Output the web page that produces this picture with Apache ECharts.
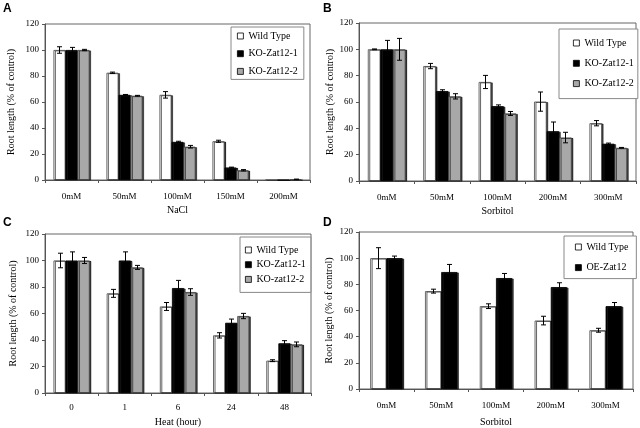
<!DOCTYPE html>
<html>
<head>
<meta charset="utf-8">
<script src="https://cdn.jsdelivr.net/npm/echarts@6/dist/echarts.min.js"></script>
<style>html,body{margin:0;padding:0;background:#fff}#c{width:640px;height:428px}</style>
</head>
<body>
<div id="c"></div>
<script>
// ---- Data ----
const catsA = ['0mM', '50mM', '100mM', '150mM', '200mM'];
const aWT = [100, 82.5, 65.5, 29.8, 0];
const aWTerr = [2.5, 0.5, 2.5, 0.8, 0];
const aKO1 = [100, 65.5, 29.3, 9.6, 0];
const aKO1err = [2, 0.3, 0.5, 0.3, 0];
const aKO2 = [100, 64.8, 25.6, 7.5, 0.5];
const aKO2err = [0.5, 0.3, 1, 0.5, 0.2];

const catsB = ['0mM', '50mM', '100mM', '200mM', '300mM'];
const bWT = [100, 87.3, 75.2, 60.3, 43.9];
const bWTerr = [0.3, 2, 5, 7.3, 2];
const bKO1 = [100, 68.3, 56.8, 37.8, 28.3];
const bKO1err = [6.8, 1, 1, 7, 0.5];
const bKO2 = [100, 64.3, 51.3, 33, 25.2];
const bKO2err = [8.3, 2, 1.5, 4, 0.3];

const catsC = ['0', '1', '6', '24', '48'];
const cWT = [100, 75.2, 65.3, 43.5, 24.4];
const cWTerr = [5.5, 3, 3, 2, 0.7];
const cKO1 = [100, 100, 79.2, 53, 37.5];
const cKO1err = [6.5, 6.5, 5.8, 2.8, 2];
const cKO2 = [100, 94.8, 76.2, 58.1, 36.7];
const cKO2err = [2.3, 1.5, 2.5, 2, 1.8];

const catsD = ['0mM', '50mM', '100mM', '200mM', '300mM'];
const dWT = [100, 74.8, 63.3, 52.3, 44.9];
const dWTerr = [8, 1.5, 1.8, 3.3, 1.5];
const dOE = [100, 89.4, 84.8, 77.9, 63.3];
const dOEerr = [1.6, 5.8, 3.5, 3.3, 2.8];

const yTicks = [0, 20, 40, 60, 80, 100, 120];

// ---- Styles ----
const FONT = 'Liberation Serif';
const STY = {
  wt: {color: '#ffffff', borderColor: '#444', borderWidth: 0.8},
  ko1: {color: '#000000', borderColor: '#000', borderWidth: 0.8},
  ko2: {color: '#a8a8a8', borderColor: '#444', borderWidth: 0.8}
};

const grids = [
  {left: 45, top: 24, width: 265, height: 156},
  {left: 359, top: 23, width: 277, height: 158},
  {left: 45, top: 234, width: 266, height: 159},
  {left: 359, top: 232, width: 274, height: 157}
];
const gaps = [0.32, 0.32, 0.32, 0.41];
const xNames = ['NaCl', 'Sorbitol', 'Heat (hour)', 'Sorbitol'];
const xCats = [catsA, catsB, catsC, catsD];
const labelMargins = [12.5, 12, 10.5, 12.5];
const xNameGaps = [25, 25, 24, 28];
const yNameGaps = [29, 23, 27, 25];

function barSeries(g, name, data, sty) {
  return {
    type: 'bar', name: name, xAxisIndex: g, yAxisIndex: g, data: data,
    barGap: '0%', barCategoryGap: (gaps[g] * 100) + '%',
    itemStyle: Object.assign({shadowColor: 'rgba(30,30,30,0.85)', shadowOffsetX: 1.5, shadowOffsetY: 0.5, shadowBlur: 0.5}, sty),
    emphasis: {disabled: true}, silent: true
  };
}

function errSeries(g, vals, errs, idx, n) {
  const gf = gaps[g];
  return {
    type: 'custom', xAxisIndex: g, yAxisIndex: g, z: 10, silent: true,
    encode: {x: 0, y: 1},
    data: vals.map((v, i) => [i, v, errs[i]]),
    renderItem: function (params, api) {
      const ci = api.value(0), v = api.value(1), e = api.value(2);
      if (!e) return null;
      const catW = api.size([1, 0])[0];
      const groupW = catW * (1 - gf);
      const bw = groupW / n;
      const c = api.coord([ci, v]);
      const x = Math.round(c[0] - groupW / 2 + bw * (idx + 0.5)) + 0.5;
      const top = api.coord([ci, v + e])[1];
      const bot = api.coord([ci, Math.max(0, v - e)])[1];
      const cap = 2.5;
      const st = {stroke: '#000', lineWidth: 1};
      return {
        type: 'group', children: [
          {type: 'line', shape: {x1: x, y1: top, x2: x, y2: bot}, style: st},
          {type: 'line', shape: {x1: x - cap, y1: top, x2: x + cap, y2: top}, style: st},
          {type: 'line', shape: {x1: x - cap, y1: bot, x2: x + cap, y2: bot}, style: st}
        ]
      };
    }
  };
}

function legendItem(name, sty) {
  return {name: name, itemStyle: {color: sty.color, borderColor: '#000', borderWidth: 0.8, shadowOffsetX: 0, shadowOffsetY: 0, shadowBlur: 0, shadowColor: 'transparent'}};
}

function makeLegend(left, top, padding, gap, items) {
  return {
    orient: 'vertical', left: left, top: top, padding: padding, itemGap: gap,
    itemWidth: 6, itemHeight: 6, icon: 'rect',
    backgroundColor: '#fff', borderColor: '#888', borderWidth: 1,
    textStyle: {fontFamily: FONT, fontSize: 10, color: '#000', lineHeight: 10},
    selectedMode: false,
    data: items
  };
}

const series = [
  barSeries(0, 'Wild Type', aWT, STY.wt),
  barSeries(0, 'KO-Zat12-1', aKO1, STY.ko1),
  barSeries(0, 'KO-Zat12-2', aKO2, STY.ko2),
  errSeries(0, aWT, aWTerr, 0, 3),
  errSeries(0, aKO1, aKO1err, 1, 3),
  errSeries(0, aKO2, aKO2err, 2, 3),

  barSeries(1, 'Wild Type', bWT, STY.wt),
  barSeries(1, 'KO-Zat12-1', bKO1, STY.ko1),
  barSeries(1, 'KO-Zat12-2', bKO2, STY.ko2),
  errSeries(1, bWT, bWTerr, 0, 3),
  errSeries(1, bKO1, bKO1err, 1, 3),
  errSeries(1, bKO2, bKO2err, 2, 3),

  barSeries(2, 'Wild Type', cWT, STY.wt),
  barSeries(2, 'KO-Zat12-1', cKO1, STY.ko1),
  barSeries(2, 'KO-zat12-2', cKO2, STY.ko2),
  errSeries(2, cWT, cWTerr, 0, 3),
  errSeries(2, cKO1, cKO1err, 1, 3),
  errSeries(2, cKO2, cKO2err, 2, 3),

  barSeries(3, 'Wild Type', dWT, STY.wt),
  barSeries(3, 'OE-Zat12', dOE, STY.ko1),
  errSeries(3, dWT, dWTerr, 0, 2),
  errSeries(3, dOE, dOEerr, 1, 2)
];

const option = {
  animation: false,
  backgroundColor: '#fff',
  grid: grids.map(g => Object.assign({show: true, borderColor: '#666', borderWidth: 1, backgroundColor: 'transparent'}, g)),
  xAxis: grids.map((g, i) => ({
    type: 'category', gridIndex: i, data: xCats[i],
    name: xNames[i], nameLocation: 'middle', nameGap: xNameGaps[i],
    nameTextStyle: {fontFamily: FONT, fontSize: 10, color: '#000'},
    axisLine: {lineStyle: {color: '#555', width: 1}},
    axisTick: {show: true, length: 3, inside: false, lineStyle: {color: '#555'}},
    axisLabel: {fontFamily: FONT, fontSize: 9, color: '#000', margin: labelMargins[i]},
    splitLine: {show: false}
  })),
  yAxis: grids.map((g, i) => ({
    type: 'value', gridIndex: i, min: yTicks[0], max: yTicks[yTicks.length - 1], interval: yTicks[1] - yTicks[0],
    name: 'Root length (% of control)', nameLocation: 'middle', nameGap: yNameGaps[i], nameRotate: 90,
    nameTextStyle: {fontFamily: FONT, fontSize: 10, color: '#000'},
    axisLine: {show: true, lineStyle: {color: '#555', width: 1}},
    axisTick: {show: true, length: 3, inside: false, lineStyle: {color: '#555'}},
    axisLabel: {fontFamily: FONT, fontSize: 9, color: '#000', margin: 6},
    splitLine: {show: false}
  })),
  legend: [
    makeLegend(231, 27, [4, 6, 3, 6], 7.7, [legendItem('Wild Type', STY.wt), legendItem('KO-Zat12-1', STY.ko1), legendItem('KO-Zat12-2', STY.ko2)]),
    makeLegend(559, 29, [9, 4, 10, 14], 10.3, [legendItem('Wild Type', STY.wt), legendItem('KO-Zat12-1', STY.ko1), legendItem('KO-Zat12-2', STY.ko2)]),
    makeLegend(240, 237, [8, 5, 8, 5], 4.7, [legendItem('Wild Type', STY.wt), legendItem('KO-Zat12-1', STY.ko1), legendItem('KO-zat12-2', STY.ko2)]),
    makeLegend(564, 236, [6, 8, 6, 11], 10.6, [legendItem('Wild Type', STY.wt), legendItem('OE-Zat12', STY.ko1)])
  ],
  graphic: [
    {type: 'text', left: 3, top: 3, style: {text: 'A', fontFamily: 'Liberation Sans', fontWeight: 'bold', fontSize: 12, fill: '#000'}},
    {type: 'text', left: 323, top: 3, style: {text: 'B', fontFamily: 'Liberation Sans', fontWeight: 'bold', fontSize: 12, fill: '#000'}},
    {type: 'text', left: 3, top: 217, style: {text: 'C', fontFamily: 'Liberation Sans', fontWeight: 'bold', fontSize: 12, fill: '#000'}},
    {type: 'text', left: 323, top: 217, style: {text: 'D', fontFamily: 'Liberation Sans', fontWeight: 'bold', fontSize: 12, fill: '#000'}}
  ],
  series: series
};

const chart = echarts.init(document.getElementById('c'), null, {renderer: 'canvas'});
chart.setOption(option);
</script>
</body>
</html>
